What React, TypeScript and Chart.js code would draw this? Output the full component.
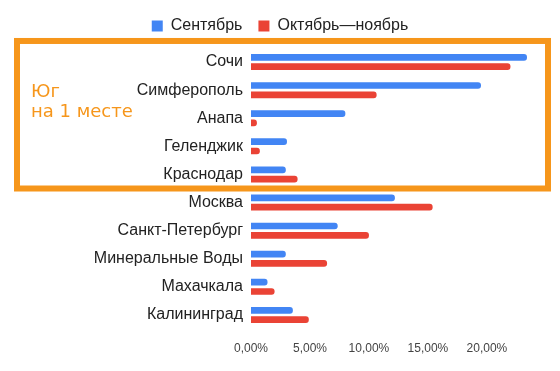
import { useEffect, useRef } from 'react';
import { Chart, registerables } from 'chart.js';

Chart.register(...registerables);

const categories = [
  'Сочи',
  'Симферополь',
  'Анапа',
  'Геленджик',
  'Краснодар',
  'Москва',
  'Санкт-Петербург',
  'Минеральные Воды',
  'Махачкала',
  'Калининград',
];
const september = [23.4, 19.5, 8.0, 3.05, 2.95, 12.2, 7.35, 2.95, 1.4, 3.55];
const octoberNovember = [22.0, 10.65, 0.5, 0.75, 3.95, 15.4, 10.0, 6.45, 2.0, 4.9];
const seriesNames = ['Сентябрь', 'Октябрь—ноябрь'];
const calloutLines = ['Юг', 'на 1 месте'];
const highlightFirst = 0;
const highlightLast = 4;

const BLUE = '#4285F4';
const RED = '#EA4335';
const ORANGE = '#F6961B';

const fmt = (v: number) => v.toFixed(2).replace('.', ',') + '%';

const legendGap = {
  id: 'legendGap',
  beforeLayout(chart: any) {
    const lg = chart.legend;
    if (lg && !lg.__gap) {
      const fit = lg.fit.bind(lg);
      lg.fit = () => {
        fit();
        lg.height += 4;
      };
      lg.__gap = true;
    }
  },
};

const highlightBox = {
  id: 'highlightBox',
  afterDraw(chart: any) {
    const { ctx } = chart;
    const y = chart.scales.y;
    const step = y.getPixelForValue(1) - y.getPixelForValue(0);
    const top = y.getPixelForValue(highlightFirst) - step * 0.75;
    const bottom = y.getPixelForValue(highlightLast) + step * 0.5;
    const left = 17;
    const right = chart.width - 12;
    ctx.save();
    ctx.strokeStyle = ORANGE;
    ctx.lineWidth = 6;
    ctx.strokeRect(left, top, right - left, bottom - top);
    ctx.fillStyle = ORANGE;
    ctx.font = '18px "DejaVu Sans", sans-serif';
    ctx.textAlign = 'left';
    ctx.textBaseline = 'alphabetic';
    const base = y.getPixelForValue(highlightFirst + 1) + 6.5;
    calloutLines.forEach((line, i) => {
      ctx.fillText(line, left + 14, base + i * 20);
    });
    ctx.restore();
  },
};

export default function App() {
  const ref = useRef<HTMLCanvasElement | null>(null);

  useEffect(() => {
    if (!ref.current) return;
    Chart.defaults.font.family = '"Liberation Sans", Arial, sans-serif';
    const chart = new Chart(ref.current, {
      type: 'bar',
      data: {
        labels: categories,
        datasets: [
          {
            label: seriesNames[0],
            data: september,
            backgroundColor: BLUE,
            borderRadius: 3,
            categoryPercentage: 0.664,
            barPercentage: 0.72,
          },
          {
            label: seriesNames[1],
            data: octoberNovember,
            backgroundColor: RED,
            borderRadius: 3,
            categoryPercentage: 0.664,
            barPercentage: 0.72,
          },
        ],
      },
      options: {
        indexAxis: 'y',
        responsive: false,
        animation: false,
        layout: { padding: { top: 2, left: 0, right: 0, bottom: 0 } },
        plugins: {
          legend: {
            position: 'top',
            labels: {
              boxWidth: 11,
              boxHeight: 11,
              padding: 16,
              color: '#222',
              font: { size: 16 },
            },
          },
          tooltip: { enabled: false },
        },
        scales: {
          x: {
            min: 0,
            max: 26.2,
            grid: { display: false, drawTicks: false },
            border: { display: false },
            ticks: {
              stepSize: 5,
              includeBounds: false,
              padding: 12,
              color: '#444',
              font: { size: 12 },
              callback: (v: any) => fmt(Number(v)),
            },
            afterBuildTicks: (s: any) => {
              s.ticks = s.ticks.filter((t: any) => t.value <= 20);
            },
            afterFit: (s: any) => {
              s.height = 42;
            },
          },
          y: {
            grid: { display: false, drawTicks: false },
            border: { display: false },
            ticks: {
              padding: 8,
              color: '#222',
              font: { size: 16 },
            },
            afterFit: (s: any) => {
              s.width = 251;
            },
          },
        },
      },
      plugins: [legendGap, highlightBox],
    } as any);
    return () => chart.destroy();
  }, []);

  return (
    <div style={{ position: 'fixed', left: 0, top: 0, width: 560, height: 371, background: '#fff' }}>
      <canvas ref={ref} width={560} height={371} />
    </div>
  );
}
